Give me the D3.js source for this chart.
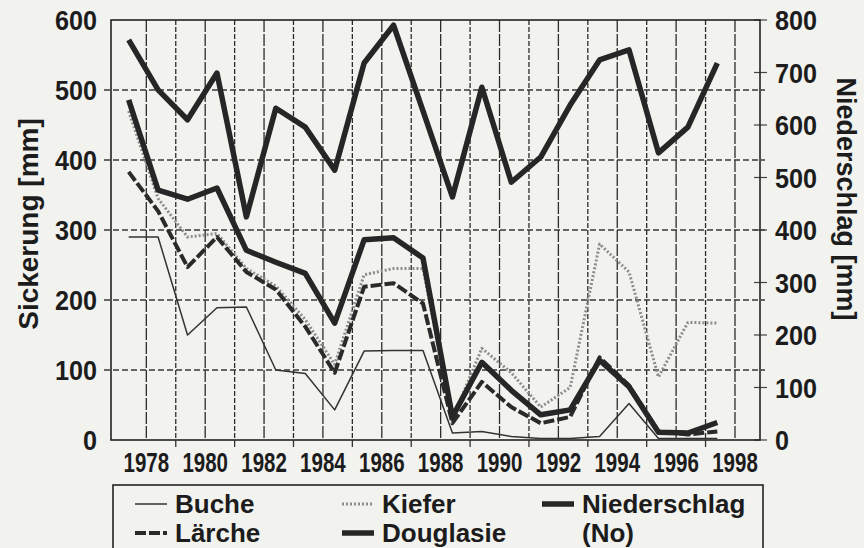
<!DOCTYPE html>
<html>
<head>
<meta charset="utf-8">
<script src="https://cdn.jsdelivr.net/npm/d3@7"></script>
<style>
body { margin: 0; background: #f2f2ef; }
text { font-family: "Liberation Sans", Arial, sans-serif; font-weight: bold; fill: #1c1c1c; }
</style>
</head>
<body>
<script>
// data
var years = [1977, 1978, 1979, 1980, 1981, 1982, 1983, 1984, 1985, 1986, 1987,
	1988, 1989, 1990, 1991, 1992, 1993, 1994, 1995, 1996, 1997];

var buche = [290, 290, 150, 189, 190, 100, 95, 43, 127, 128, 128,
	10, 12, 5, 2, 2, 5, 52, 2, 2, 2];
var laerche = [383, 327, 247, 290, 240, 215, 162, 96, 219, 224, 195,
	24, 83, 47, 24, 33, 118, 78, 12, 8, 12];
var kiefer = [470, 345, 290, 295, 245, 220, 172, 108, 236, 245, 245,
	30, 131, 96, 47, 75, 280, 240, 90, 168, 167];
var douglasie = [486, 357, 344, 360, 271, 254, 238, 167, 286, 289, 260,
	33, 111, 71, 36, 43, 114, 76, 11, 10, 25];
var niederschlag = [762, 667, 610, 699, 425, 632, 596, 514, 718, 790, 627,
	463, 672, 491, 539, 638, 724, 743, 547, 596, 718];

// ticks
var leftTicks = [0, 100, 200, 300, 400, 500, 600];
var rightTicks = [0, 100, 200, 300, 400, 500, 600, 700, 800];
var gridYears = [1978, 1979, 1980, 1981, 1982, 1983, 1984, 1985, 1986, 1987, 1988,
	1989, 1990, 1991, 1992, 1993, 1994, 1995, 1996, 1997, 1998];
var yearLabels = [1978, 1980, 1982, 1984, 1986, 1988, 1990, 1992, 1994, 1996, 1998];
var oddYears = [1979, 1981, 1983, 1985, 1987, 1989, 1991, 1993, 1995, 1997];

var width = 864, height = 548;
var plot = {left: 111, right: 760, top: 20, bottom: 440};
var shift = 0.4; // data sit a bit right of the year gridline

var svg = d3.select("body")
	.append("svg")
	.attr("width", width)
	.attr("height", height);

svg.append("rect")
	.attr("width", width)
	.attr("height", height)
	.attr("fill", "#f2f2ef");

//scales
var x = d3.scaleLinear()
	.domain([1976.8, 1998.85])
	.range([plot.left, plot.right]);

var yLeft = d3.scaleLinear()
	.domain([0, 600])
	.range([plot.bottom, plot.top]);

var yRight = d3.scaleLinear()
	.domain([0, 800])
	.range([plot.bottom, plot.top]);

// vertical grid
svg.selectAll(".vgrid")
	.data(gridYears)
	.enter()
	.append("line")
	.attr("x1", d => x(d))
	.attr("x2", d => x(d))
	.attr("y1", plot.top)
	.attr("y2", plot.bottom)
	.attr("stroke", "#2c2c2c")
	.attr("stroke-width", 1.3)
	.attr("stroke-dasharray", (d) => d % 2 == 0 ? "12,2" : "5,2");

// horizontal grid, pokes out a little on both sides
svg.selectAll(".hgrid")
	.data(leftTicks.slice(1, 6))
	.enter()
	.append("line")
	.attr("x1", plot.left - 7)
	.attr("x2", plot.right + 5)
	.attr("y1", d => yLeft(d))
	.attr("y2", d => yLeft(d))
	.attr("stroke", "#383838")
	.attr("stroke-width", 1.3)
	.attr("stroke-dasharray", "6,3");

// right axis ticks
svg.selectAll(".rtick")
	.data(rightTicks)
	.enter()
	.append("line")
	.attr("x1", plot.right - 6)
	.attr("x2", plot.right + 7)
	.attr("y1", d => yRight(d))
	.attr("y2", d => yRight(d))
	.attr("stroke", "#444")
	.attr("stroke-width", 1.2);

// bottom ticks on odd years
svg.selectAll(".btick")
	.data(oddYears)
	.enter()
	.append("line")
	.attr("x1", d => x(d))
	.attr("x2", d => x(d))
	.attr("y1", plot.bottom)
	.attr("y2", plot.bottom + 7)
	.attr("stroke", "#333")
	.attr("stroke-width", 1.3);

// frame
svg.append("rect")
	.attr("x", plot.left)
	.attr("y", plot.top)
	.attr("width", plot.right - plot.left)
	.attr("height", plot.bottom - plot.top)
	.attr("fill", "none")
	.attr("stroke", "#222")
	.attr("stroke-width", 1.6);

// series
var series = [
	{name: "Buche", values: buche, axis: yLeft, width: 1.5, color: "#333", dash: null},
	{name: "Kiefer", values: kiefer, axis: yLeft, width: 3, color: "#8c8c8c", dash: "2,2"},
	{name: "Lärche", values: laerche, axis: yLeft, width: 4, color: "#2a2a2a", dash: "11,3"},
	{name: "Douglasie", values: douglasie, axis: yLeft, width: 5.5, color: "#262626", dash: null},
	{name: "Niederschlag", values: niederschlag, axis: yRight, width: 5.5, color: "#262626", dash: null}
];

series.forEach(function(s) {
	var line = d3.line()
		.x((v, i) => x(years[i] + shift))
		.y(v => s.axis(v))
		.curve(d3.curveLinear);

	svg.append("path")
		.attr("d", line(s.values))
		.attr("fill", "none")
		.attr("stroke", s.color)
		.attr("stroke-width", s.width)
		.attr("stroke-linejoin", "round")
		.attr("stroke-dasharray", s.dash);
});

// condensed number labels
function numLabels(cls, data, pos, size, sx, anchor, dy) {
	svg.selectAll("." + cls)
		.data(data)
		.enter()
		.append("g")
		.attr("transform", d => "translate(" + pos(d)[0] + "," + pos(d)[1] + ")")
		.append("text")
		.attr("transform", "scale(" + sx + ",1)")
		.attr("text-anchor", anchor)
		.attr("dy", dy)
		.style("font-size", size + "px")
		.text(d => d);
}

numLabels("ylab", leftTicks, d => [97, yLeft(d)], 28, 0.9, "end", "0.36em");
numLabels("rlab", rightTicks, d => [775, yRight(d)], 28, 0.9, "start", "0.36em");
numLabels("xlab", yearLabels, d => [x(d), 472], 27, 0.76, "middle", "0");

// axis titles
svg.append("text")
	.attr("transform", "translate(38,224) rotate(-90)")
	.attr("text-anchor", "middle")
	.style("font-size", "28px")
	.text("Sickerung [mm]");

svg.append("text")
	.attr("transform", "translate(837,199) rotate(90)")
	.attr("text-anchor", "middle")
	.style("font-size", "27px")
	.text("Niederschlag [mm]");

// legend
svg.append("rect")
	.attr("x", 113)
	.attr("y", 485)
	.attr("width", 650)
	.attr("height", 90)
	.attr("fill", "none")
	.attr("stroke", "#222")
	.attr("stroke-width", 1.6);

var legendItems = [
	{s: 0, x: 135, row: 0},
	{s: 2, x: 135, row: 1},
	{s: 1, x: 342, row: 0},
	{s: 3, x: 342, row: 1},
	{s: 4, x: 542, row: 0}
];

legendItems.forEach(function(l) {
	var s = series[l.s];
	var base = 513 + l.row * 29;
	svg.append("line")
		.attr("x1", l.x)
		.attr("x2", l.x + 32)
		.attr("y1", base - 9)
		.attr("y2", base - 9)
		.attr("stroke", s.color)
		.attr("stroke-width", s.width)
		.attr("stroke-dasharray", s.dash);
	svg.append("text")
		.attr("x", l.x + 40)
		.attr("y", base)
		.style("font-size", "26px")
		.text(s.name);
});

svg.append("text")
	.attr("x", 582)
	.attr("y", 542)
	.style("font-size", "26px")
	.text("(No)");
</script>
</body>
</html>
